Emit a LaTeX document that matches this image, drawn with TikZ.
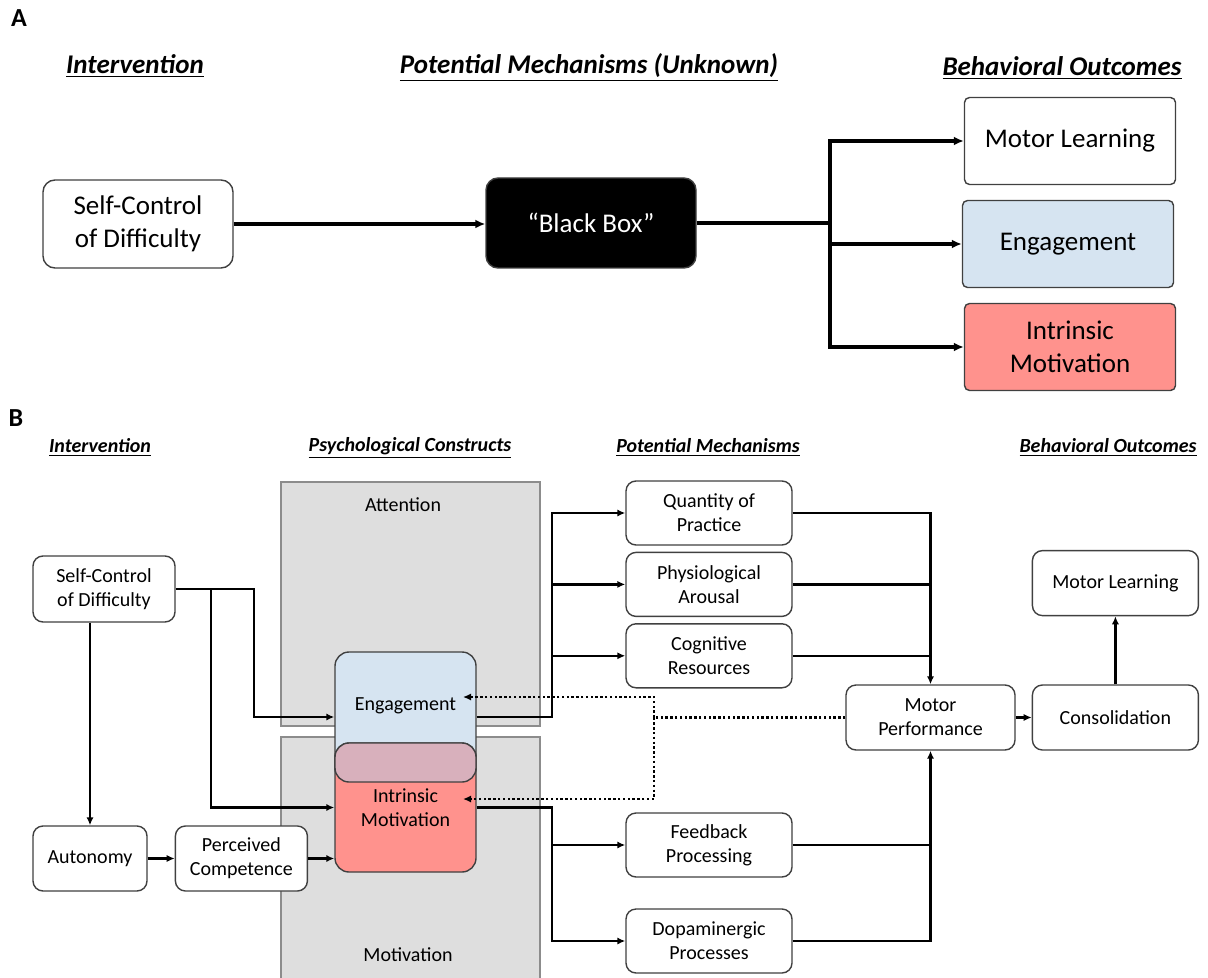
\documentclass[tikz,border=0pt]{standalone}
\usepackage{fontspec}
\setmainfont{Carlito}
\usetikzlibrary{positioning,arrows.meta}
\definecolor{engblue}{HTML}{D6E4F1}
\definecolor{imred}{HTML}{FF928D}
\definecolor{ovlpurple}{HTML}{D8B0BC}
\definecolor{panelgray}{HTML}{DEDEDE}
\begin{document}
\begin{tikzpicture}[
  x=0.5pt,y=-0.5pt,
  font=\fontsize{10}{12}\selectfont,
  node distance=3pt,
  bx/.style={draw=black!75,line width=0.7pt,rounded corners=5pt,align=center,fill=white,minimum width=83pt,minimum height=32pt,inner sep=1pt},
  bigbx/.style={bx,rounded corners=2.5pt,font=\fontsize{13.5}{16.5}\selectfont,minimum width=105.5pt,minimum height=43.5pt},
  hd/.style={font=\fontsize{10}{12}\selectfont\bfseries\itshape,inner sep=1pt},
  bighd/.style={font=\fontsize{13.5}{16}\selectfont\bfseries\itshape,inner sep=1pt},
  lbl/.style={font=\fontsize{13}{15}\selectfont\bfseries,inner sep=0pt},
  panel/.style={draw=black!45,fill=panelgray,line width=0.6pt,minimum width=129.5pt,inner sep=0pt},
  core/.style={draw=black!75,line width=0.7pt,rounded corners=7pt,minimum width=70.5pt,inner sep=0pt,align=center},
  ln/.style={line width=1.2pt},
  a/.style={ln,-{Latex[length=4pt,width=3.6pt]}},
  bln/.style={line width=1.6pt},
  ba/.style={bln,-{Latex[length=5pt,width=4.5pt]}},
  dl/.style={line width=1.2pt,dash pattern=on 1.2pt off 1.2pt},
  da/.style={dl,-{Latex[length=4pt,width=3.6pt]}},
]
  \useasboundingbox (0,0) rectangle (1208,978);

  % panel A
  \node[lbl] (labA) at (19,18) {A};
  \node[bighd] (hIntA)  at (135,66)  {\underline{Intervention}};
  \node[bighd] (hMechA) at (589,68)  {\underline{Potential Mechanisms (Unknown)}};
  \node[bighd] (hOutA)  at (1062,68) {\underline{Behavioral Outcomes}};

  \node[bigbx,rounded corners=6pt,minimum width=95pt,minimum height=44pt] (scA) at (138,224) {Self-Control\\of Difficulty};
  \node[bigbx,rounded corners=6pt,fill=black,text=white,minimum width=105pt,minimum height=45pt] (bb) at (591,223) {“Black Box”};
  \node[bigbx] (mlA)  at (1070,141) {Motor Learning};
  \node[bigbx,fill=engblue] (engA) at (1068,244) {Engagement};
  \node[bigbx,fill=imred]   (imA)  at (1070,347) {Intrinsic\\Motivation};

  \coordinate (jA) at (830,223);
  \draw[ba] (scA.east) -- (scA.east -| bb.west);
  \draw[bln] (bb.east) -- (jA);
  \draw[ba] (jA) |- (mlA.west);
  \draw[ba] (jA) |- (engA.west);
  \draw[ba] (jA) |- (imA.west);

  % panel B
  \node[lbl] (labB) at (16,418) {B};
  \node[hd] (hIntB)  at (100,448)  {\underline{Intervention}};
  \node[hd] (hPsyB)  at (410,448)  {\underline{Psychological Constructs}};
  \node[hd] (hMechB) at (708,448)  {\underline{Potential Mechanisms}};
  \node[hd] (hOutB)  at (1108,448) {\underline{Behavioral Outcomes}};

  \node[panel,minimum height=122pt]   (attn) at (410.5,604)   {};
  \node[panel,minimum height=122.5pt] (motv) at (410.5,859.5) {};
  \node (attnT) at (403,505) {Attention};
  \node (motvT) at (408,955) {Motivation};

  \node[core,fill=engblue,minimum height=65pt,label={[name=engT,yshift=5.5pt]center:Engagement}] (engB) at (405.5,717) {};
  \node[core,fill=imred,minimum height=64.5pt] (imB) at (405.5,807.5) {Intrinsic\\Motivation};
  \node[core,fill=ovlpurple,minimum height=19.5pt] (ovl) at (405.5,762.5) {};

  \node[bx,minimum width=71pt,minimum height=33pt] (scB) at (104,589) {Self-Control\\of Difficulty};
  \node[bx,minimum width=57pt,minimum height=32.5pt] (aut) at (90,858.5) {Autonomy};
  \node[bx,minimum width=66pt,minimum height=32.5pt,right=13.5pt of aut] (pc) {Perceived\\Competence};

  \node[bx] (qp) at (709,513) {Quantity of\\Practice};
  \node[bx,below=of qp] (pa) {Physiological\\Arousal};
  \node[bx,below=of pa] (cr) {Cognitive\\Resources};
  \node[bx] (fp) at (709,845) {Feedback\\Processing};
  \node[bx] (dp) at (709,941) {Dopaminergic\\Processes};

  \node[bx,minimum width=84.5pt,minimum height=32.5pt] (mp) at (930.5,717.5) {Motor\\Performance};
  \node[bx,minimum height=32.5pt,right=8pt of mp] (con) {Consolidation};
  \node[bx,minimum height=32.5pt,above=34pt of con] (mlB) {Motor Learning};

  \coordinate (busE) at (552,513);
  \coordinate (busI) at (552,941);
  \coordinate (dj) at (654,717.5);
  \coordinate (dE) at (463,697);
  \coordinate (dI) at (463,799);

  \draw[a] (scB.east) -- ++(78,0) |- (engB.west);
  \draw[a] ([xshift=17.5pt]scB.east) |- (imB.west);
  \draw[a] (aut.north |- scB.south) -- (aut.north);
  \draw[a] (aut) -- (pc);
  \draw[a] (pc.east) -- (pc.east -| imB.west);

  \draw[a] (engB.east) -| (busE) -- (qp.west);
  \draw[a] (busE |- pa) -- (pa.west);
  \draw[a] (busE |- cr) -- (cr.west);
  \draw[a] (imB.east) -| (busI) -- (dp.west);
  \draw[a] (busI |- fp) -- (fp.west);

  \draw[a] (qp.east) -| (mp.north);
  \draw[ln] (pa.east) -- (pa.east -| mp.north);
  \draw[ln] (cr.east) -- (cr.east -| mp.north);
  \draw[a] (dp.east) -| (mp.south);
  \draw[ln] (fp.east) -- (fp.east -| mp.south);
  \draw[a] (mp) -- (con);
  \draw[a] (con) -- (mlB);

  \draw[dl] (mp.west) -- (dj);
  \draw[da] (dj) |- (dE);
  \draw[da] (dj) |- (dI);
\end{tikzpicture}
\end{document}
